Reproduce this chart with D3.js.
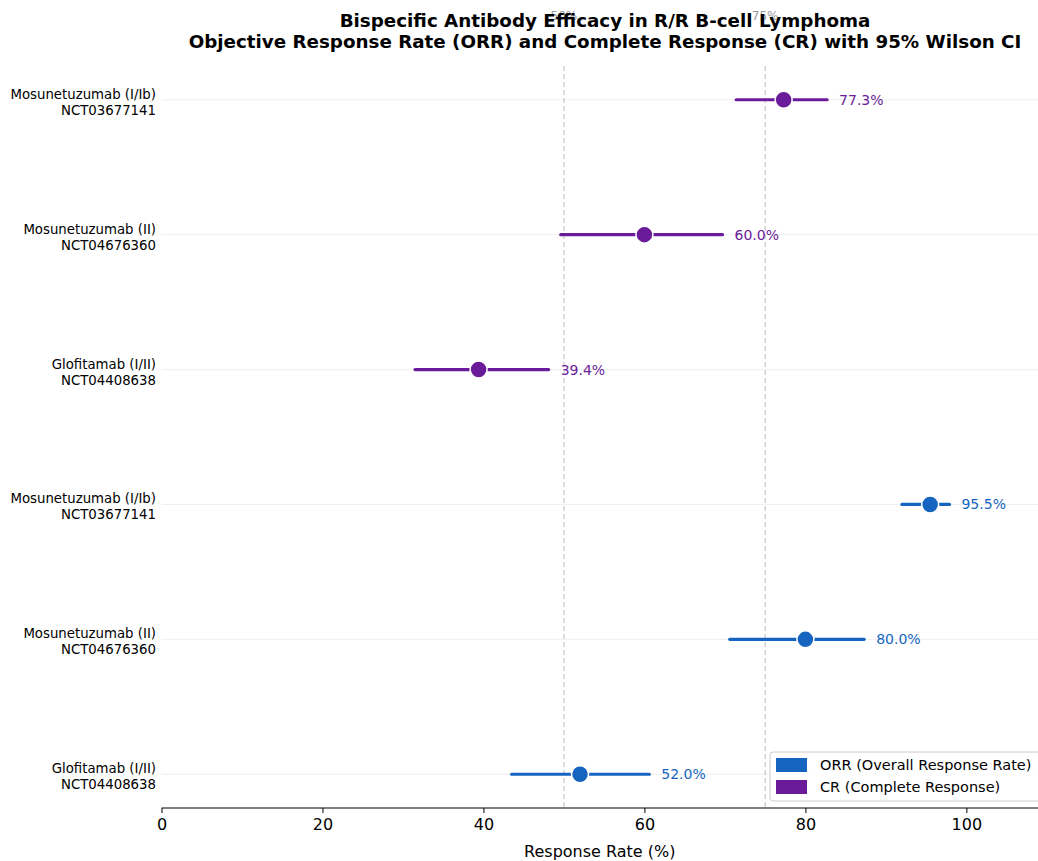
<!DOCTYPE html>
<html>
<head>
<meta charset="utf-8">
<script src="https://cdn.jsdelivr.net/npm/d3@7"></script>
<style>
  body { margin: 0; background: #fff; font-family: "DejaVu Sans", sans-serif; }
</style>
</head>
<body>
<svg width="1038" height="861"></svg>
<script>
// rows from bottom to top
const trials = ["Glofitamab (I/II)", "Mosunetuzumab (II)", "Mosunetuzumab (I/Ib)",
                "Glofitamab (I/II)", "Mosunetuzumab (II)", "Mosunetuzumab (I/Ib)"];
const nctIds = ["NCT04408638", "NCT04676360", "NCT03677141",
                "NCT04408638", "NCT04676360", "NCT03677141"];
const endpoints = ["ORR", "ORR", "ORR", "CR", "CR", "CR"];
const rates = [52.0, 80.0, 95.5, 39.4, 60.0, 77.3];
const ciLow = [43.5, 70.6, 92.0, 31.5, 49.6, 71.4];
const ciHigh = [60.6, 87.3, 97.9, 48.1, 69.7, 82.7];
const refLines = [50, 75];
const xTicks = [0, 20, 40, 60, 80, 100];

const colors = { ORR: "#1565C0", CR: "#6A1B9A" };
const legendLabels = [["ORR", "ORR (Overall Response Rate)"], ["CR", "CR (Complete Response)"]];

const svg = d3.select("svg");
const margin = { top: 66, right: 0, bottom: 53, left: 161.5 };
const width = +svg.attr("width");
const height = +svg.attr("height");

const xScale = d3.scaleLinear().domain([0, 108.9]).range([margin.left, width - margin.right]);
const yScale = d3.scaleLinear().domain([-0.25, 5.25]).range([height - margin.bottom, margin.top]);

const rows = rates.map((r, i) => ({ i, trial: trials[i], nct: nctIds[i], ep: endpoints[i], rate: r, lo: ciLow[i], hi: ciHigh[i] }));

// row grid lines
svg.append("g").selectAll("line").data(rows).join("line")
    .attr("x1", margin.left).attr("x2", width)
    .attr("y1", d => yScale(d.i)).attr("y2", d => yScale(d.i))
    .attr("stroke", "#ebebeb").attr("stroke-width", 0.8);

// reference lines
refLines.forEach(v => {
    svg.append("line")
        .attr("x1", xScale(v)).attr("x2", xScale(v))
        .attr("y1", margin.top).attr("y2", height - margin.bottom)
        .attr("stroke", "#bbb").attr("stroke-width", 1).attr("stroke-dasharray", "5,3");
    svg.append("text")
        .attr("x", xScale(v)).attr("y", 20)
        .attr("text-anchor", "middle")
        .attr("font-size", 12).attr("fill", "#999")
        .text(v + "%");
});

// x axis
const xAxis = svg.append("g")
    .attr("transform", `translate(0,${height - margin.bottom})`)
    .call(d3.axisBottom(xScale).tickValues(xTicks).tickSize(5).tickPadding(6));
xAxis.select(".domain").attr("stroke", "#000").attr("stroke-width", 1.2).attr("d", `M${margin.left},0H${width}`);
xAxis.selectAll(".tick line").attr("stroke", "#000");
xAxis.selectAll("text").attr("font-size", 16).attr("font-family", "DejaVu Sans").attr("fill", "#000");

svg.append("text")
    .attr("x", (margin.left + width) / 2).attr("y", 857)
    .attr("text-anchor", "middle").attr("font-size", 16)
    .text("Response Rate (%)");

// y labels
const yLab = svg.append("g").selectAll("text").data(rows).join("text")
    .attr("text-anchor", "end").attr("font-size", 13.3);
yLab.append("tspan").attr("x", 156).attr("y", d => yScale(d.i) - 1).text(d => d.trial);
yLab.append("tspan").attr("x", 156).attr("y", d => yScale(d.i) + 15).text(d => d.nct);

// CI lines
svg.append("g").selectAll("line").data(rows).join("line")
    .attr("x1", d => xScale(d.lo)).attr("x2", d => xScale(d.hi))
    .attr("y1", d => yScale(d.i)).attr("y2", d => yScale(d.i))
    .attr("stroke", d => colors[d.ep]).attr("stroke-width", 3.2).attr("stroke-linecap", "round");

// points
svg.append("g").selectAll("circle").data(rows).join("circle")
    .attr("cx", d => xScale(d.rate)).attr("cy", d => yScale(d.i))
    .attr("r", 8.5)
    .attr("fill", d => colors[d.ep]).attr("stroke", "#fff").attr("stroke-width", 1.5);

// value labels
svg.append("g").selectAll("text").data(rows).join("text")
    .attr("x", d => xScale(d.hi) + 12).attr("y", d => yScale(d.i) + 5)
    .attr("font-size", 14).attr("fill", d => colors[d.ep])
    .text(d => d.rate.toFixed(1) + "%");

// title
const title = svg.append("text").attr("text-anchor", "middle").attr("font-weight", "bold").attr("font-size", 18.3);
title.append("tspan").attr("x", 605).attr("y", 27).text("Bispecific Antibody Efficacy in R/R B-cell Lymphoma");
title.append("tspan").attr("x", 605).attr("y", 48).text("Objective Response Rate (ORR) and Complete Response (CR) with 95% Wilson CI");

// legend
const lg = svg.append("g").attr("transform", "translate(770,752)");
lg.append("rect").attr("width", 272).attr("height", 49).attr("rx", 3)
    .attr("fill", "#fff").attr("fill-opacity", 0.85).attr("stroke", "#ccc");
legendLabels.forEach(([k, label], j) => {
    lg.append("rect").attr("x", 6).attr("y", 6 + j * 22).attr("width", 31).attr("height", 14)
        .attr("fill", colors[k]);
    lg.append("text").attr("x", 50).attr("y", 18 + j * 22).attr("font-size", 14.5).text(label);
});
</script>
</body>
</html>
